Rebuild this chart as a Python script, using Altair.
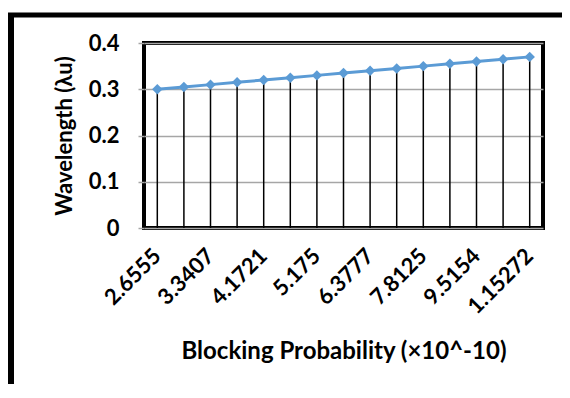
import altair as alt
import pandas as pd

# Category labels (odd positions are not labelled in the reference; estimated)
x_labels = ["2.6555", "2.9785", "3.3407", "3.7335", "4.1721", "4.6488", "5.175",
            "5.7476", "6.3777", "7.0617", "7.8125", "8.6277", "9.5154", "1.04802",
            "1.15272"]
shown_labels = ["2.6555", "3.3407", "4.1721", "5.175", "6.3777", "7.8125",
                "9.5154", "1.15272"]
wavelength = [0.300, 0.305, 0.310, 0.315, 0.320, 0.325, 0.330, 0.335,
              0.340, 0.345, 0.350, 0.355, 0.360, 0.365, 0.370]

df = pd.DataFrame({"bp": x_labels, "wl": wavelength})
one = pd.DataFrame({"k": [0]})

FONT = "Lato"
BLUE = "#5B9BD5"
GRID = "#A6A6A6"

shown_expr = "[" + ",".join("'%s'" % s for s in shown_labels) + "]"

x_enc = alt.X(
    "bp:N", sort=x_labels,
    scale=alt.Scale(paddingInner=0, paddingOuter=0),
    axis=alt.Axis(
        title="Blocking Probability (×10^-10)",
        labelAngle=-45, labelAlign="right", labelBaseline="middle",
        labelOverlap=False, labelPadding=24,
        labelExpr="indexof(%s, datum.value) >= 0 ? datum.label : ''" % shown_expr,
        labelFont=FONT, labelFontSize=22, labelFontWeight="bold", labelColor="black",
        titleFont=FONT, titleFontSize=24, titleFontWeight="bold", titleColor="black",
        titlePadding=22,
        domain=False, ticks=False, grid=False,
    ),
)
y_enc = alt.Y(
    "wl:Q",
    scale=alt.Scale(domain=[0, 0.4]),
    axis=alt.Axis(
        title="Wavelength (λu)", values=[0, 0.1, 0.2, 0.3, 0.4],
        labelExpr="datum.value == 0 ? '0' : format(datum.value, '.1f')",
        labelFont=FONT, labelFontSize=22, labelFontWeight="bold", labelColor="black",
        labelPadding=19,
        titleFont=FONT, titleFontSize=22, titleFontWeight="bold", titleColor="black",
        titlePadding=12,
        domain=False, ticks=True, tickColor=GRID, tickSize=6, tickWidth=1.5,
        grid=True, gridColor=GRID, gridWidth=1.5,
    ),
)

drops = alt.Chart(df).mark_rule(color="black", strokeWidth=1.5).encode(
    x=x_enc, y=y_enc, y2=alt.datum(0)
)
line = alt.Chart(df).mark_line(color=BLUE, strokeWidth=3).encode(x=x_enc, y=y_enc)
pts = alt.Chart(df).mark_point(shape="diamond", filled=True, color=BLUE, size=110,
                               opacity=1).encode(x=x_enc, y=y_enc)

# outer frame of the chart (runs off the page edges as in the reference)
frame_left = alt.Chart(one).mark_rule(color="black", strokeWidth=6).encode(
    x=alt.value(-133), y=alt.value(-30), y2=alt.value(400)
)
frame_top = alt.Chart(one).mark_rule(color="black", strokeWidth=5).encode(
    x=alt.value(-136), x2=alt.value(500), y=alt.value(-28)
)

chart = alt.layer(frame_left, frame_top, drops, line, pts).properties(
    width=399, height=185,
    autosize=alt.AutoSizeParams(type="none"),
    padding={"left": 136, "top": 35, "right": 19, "bottom": 156},
    background="white",
).configure_view(stroke="black", strokeWidth=4)

chart.save("out.html", embed_options={"renderer": "svg", "actions": False})
